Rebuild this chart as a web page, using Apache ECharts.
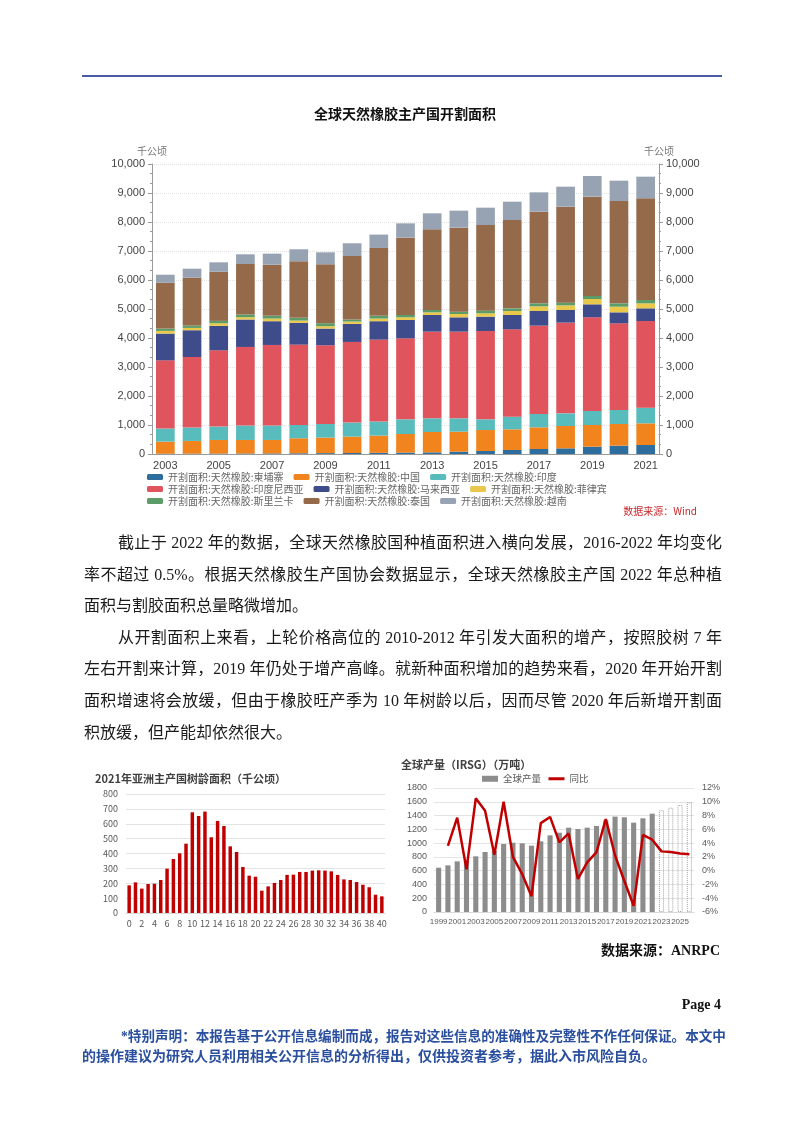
<!DOCTYPE html>
<html lang="zh-CN"><head><meta charset="utf-8">
<script src="https://cdn.jsdelivr.net/npm/echarts@6.0.0/dist/echarts.min.js"></script>
<style>
html,body{margin:0;padding:0;background:#fff;}
#page{position:relative;width:802px;height:1133px;overflow:hidden;background:#fff;}
#chart{position:absolute;left:0;top:0;width:802px;height:1133px;}
.t{position:absolute;white-space:nowrap;}
.ln{position:absolute;left:84px;width:638px;height:32px;line-height:32px;font-family:"Liberation Serif","Noto Sans CJK SC";font-size:16px;color:#1a1a1a;white-space:nowrap;}
.j{text-align:justify;text-align-last:justify;}
.ind{left:118px;width:604px;}
.disc{position:absolute;font-family:"Liberation Serif","Noto Sans CJK SC";font-weight:bold;color:#2a4f9e;white-space:nowrap;height:20px;line-height:20px;}
</style></head>
<body><div id="page">
<div id="chart"></div>
<div class="t" style="left:82px;top:75px;width:640px;height:2px;background:#4a5aa6;"></div>
<div class="t" style="left:0;width:810px;top:104px;text-align:center;font-family:'Noto Sans CJK SC';font-weight:bold;font-size:14px;color:#111;line-height:18px;">全球天然橡胶主产国开割面积</div>

<div class="ln j ind" style="top:527px;">截止于 2022 年的数据，全球天然橡胶国种植面积进入横向发展，2016-2022 年均变化</div>
<div class="ln j" style="top:559px;">率不超过 0.5%。根据天然橡胶生产国协会数据显示，全球天然橡胶主产国 2022 年总种植</div>
<div class="ln" style="top:590px;">面积与割胶面积总量略微增加。</div>
<div class="ln j ind" style="top:622px;">从开割面积上来看，上轮价格高位的 2010-2012 年引发大面积的增产，按照胶树 7 年</div>
<div class="ln j" style="top:653px;">左右开割来计算，2019 年仍处于增产高峰。就新种面积增加的趋势来看，2020 年开始开割</div>
<div class="ln j" style="top:685px;">面积增速将会放缓，但由于橡胶旺产季为 10 年树龄以后，因而尽管 2020 年后新增开割面</div>
<div class="ln" style="top:717px;">积放缓，但产能却依然很大。</div>

<div class="t" style="right:82px;top:941px;font-family:'Liberation Serif','Noto Sans CJK SC';font-weight:bold;font-size:14px;color:#111;line-height:20px;">数据来源：ANRPC</div>
<div class="t" style="right:81px;top:995px;font-family:'Liberation Serif';font-weight:bold;font-size:14px;color:#111;line-height:20px;">Page 4</div>
<div class="disc" style="left:121px;width:601px;top:1027px;font-size:13.6px;text-align:justify;text-align-last:justify;">*特别声明：本报告基于公开信息编制而成，报告对这些信息的准确性及完整性不作任何保证。本文中</div>
<div class="disc" style="left:82px;top:1047px;font-size:14px;">的操作建议为研究人员利用相关公开信息的分析得出，仅供投资者参考，据此入市风险自负。</div>
</div>
<script>
// ---- Top chart: tapped area (thousand ha) ----
const years = ['2003','2004','2005','2006','2007','2008','2009','2010','2011','2012','2013','2014','2015','2016','2017','2018','2019','2020','2021'];
const cambodia    = [10,12,14,17,20,25,30,35,40,50,57,80,103,138,172,195,253,287,310];
const china       = [417,438,470,467,464,517,535,565,594,640,702,690,725,713,748,771,747,747,747];
const india       = [450,461,462,496,496,461,473,484,485,505,471,460,367,436,459,436,483,483,541];
const indonesia   = [2353,2434,2630,2711,2780,2769,2711,2780,2826,2794,2988,2988,3046,3012,3046,3127,3230,2989,2988];
const malaysia    = [922,923,842,946,819,749,576,623,634,632,575,495,495,494,506,437,448,379,437];
const philippines = [93,80,92,80,92,81,81,80,92,92,92,115,115,138,161,160,184,195,172];
const sriLanka    = [80,81,80,93,93,92,104,70,93,80,81,80,92,92,103,92,103,115,115];
const thailand    = [1580,1649,1696,1741,1764,1950,2030,2191,2341,2667,2781,2897,2954,3046,3161,3311,3426,3529,3506];
const vietnam     = [277,312,323,335,381,415,415,438,461,494,552,586,597,632,667,689,712,701,747];
const seriesNames = ['开割面积:天然橡胶:柬埔寨','开割面积:天然橡胶:中国','开割面积:天然橡胶:印度','开割面积:天然橡胶:印度尼西亚','开割面积:天然橡胶:马来西亚','开割面积:天然橡胶:菲律宾','开割面积:天然橡胶:斯里兰卡','开割面积:天然橡胶:泰国','开割面积:天然橡胶:越南'];
const seriesData = [cambodia,china,india,indonesia,malaysia,philippines,sriLanka,thailand,vietnam];
const seriesColors = ['#2d6e9e','#f2841e','#58bcbd','#e0555d','#3f4c8c','#e9c84c','#5c9c68','#946a4b','#97a3b2'];

// ---- Bottom-left: tree age area 2021 ----
const ageLabels = ['0','1','2','3','4','5','6','7','8','9','10','11','12','13','14','15','16','17','18','19','20','21','22','23','24','25','26','27','28','29','30','31','32','33','34','35','36','37','38','39','40'];
const ageArea = [186,206,164,195,197,222,298,363,401,466,677,652,682,509,619,585,448,410,309,251,244,150,179,202,222,256,258,276,276,285,287,285,280,256,226,222,208,190,173,123,112];

// ---- Bottom-right: IRSG global production ----
const prodYears = ['1999','2000','2001','2002','2003','2004','2005','2006','2007','2008','2009','2010','2011','2012','2013','2014','2015','2016','2017','2018','2019','2020','2021','2022','2023','2024','2025','2026'];
const prodActual = [643,677,735,740,808,871,888,987,1006,997,963,1026,1113,1151,1224,1205,1224,1248,1330,1385,1375,1297,1360,1427];
const prodForecast = [1476,1514,1553,1592];
const yoyPct = [null,3.6,7.7,0.2,10.5,8.7,2.3,10.0,2.0,-0.5,-3.7,6.9,7.8,4.1,5.4,-1.2,1.2,2.7,7.5,2.2,-1.5,-5.1,5.2,4.5,2.8,2.7,2.5,2.4];

const chart = echarts.init(document.getElementById('chart'), null, {renderer:'canvas'});
const fmt = v => v.toLocaleString('en-US');
const plain = v => String(v);
const topLabel = {color:'#444', fontSize:11, fontFamily:'Liberation Sans'};
const smallLabel = {color:'#595959', fontSize:9, fontFamily:'Liberation Sans'};
const series = [];
seriesNames.forEach((n,i)=>{
  series.push({name:n, type:'bar', stack:'area', xAxisIndex:0, yAxisIndex:0, data:seriesData[i],
    barCategoryGap:'30%', itemStyle:{color:seriesColors[i]}});
});
series.push({name:'ageArea', type:'bar', xAxisIndex:1, yAxisIndex:2, data:ageArea, barWidth:'55%', itemStyle:{color:'#c00000'}});
const prodData = prodActual.map(v=>v).concat(prodForecast.map(v=>({value:v, itemStyle:{color:'rgba(255,255,255,0)', borderColor:'#a0a0a0', borderWidth:1, borderType:'dotted'}})));
series.push({name:'全球产量', type:'bar', xAxisIndex:2, yAxisIndex:3, data:prodData, barWidth:'55%', itemStyle:{color:'#8c8c8c'}});
series.push({name:'同比', type:'line', xAxisIndex:2, yAxisIndex:4, data:yoyPct, symbol:'none', lineStyle:{color:'#c00000', width:2.5}, itemStyle:{color:'#c00000'}});

const legendText = {color:'#666', fontSize:10, fontFamily:'Noto Sans CJK SC'};
const mkLegend = (names, top) => ({left:147, top:top, orient:'horizontal', itemWidth:16, itemHeight:6, itemGap:10, icon:'roundRect', data:names, textStyle:legendText, padding:0, selectedMode:false});

chart.setOption({
  animation:false,
  textStyle:{fontFamily:'Noto Sans CJK SC'},
  title:[
    {text:'2021年亚洲主产国树龄面积（千公顷）', left:95, top:773, padding:0, textStyle:{fontSize:11, fontWeight:'bold', color:'#404040', fontFamily:'Noto Sans CJK SC'}},
    {text:'全球产量（IRSG）（万吨）', left:401, top:759, padding:0, textStyle:{fontSize:11, fontWeight:'bold', color:'#404040', fontFamily:'Noto Sans CJK SC'}},
    {text:'数据来源：Wind', right:105, top:506, padding:0, textStyle:{fontSize:10, fontWeight:'normal', color:'#c8282c', fontFamily:'Noto Sans CJK SC'}}
  ],
  legend:[
    mkLegend(seriesNames.slice(0,3), 472),
    mkLegend(seriesNames.slice(3,6), 484),
    mkLegend(seriesNames.slice(6,9), 496),
    {left:482, top:774, itemWidth:16, itemHeight:6, itemGap:6, padding:0, selectedMode:false,
     data:[{name:'全球产量', icon:'rect'},{name:'同比', itemStyle:{opacity:0}, lineStyle:{width:3, color:'#c00000'}}],
     textStyle:{color:'#595959', fontSize:9.5, fontFamily:'Noto Sans CJK SC'}}
  ],
  grid:[
    {left:152, top:164, width:507, height:290, outerBoundsMode:'none', containLabel:false},
    {left:126, top:794, width:259, height:119, outerBoundsMode:'none', containLabel:false},
    {left:434, top:788, width:260, height:124, outerBoundsMode:'none', containLabel:false}
  ],
  xAxis:[
    {type:'category', gridIndex:0, data:years, axisLine:{lineStyle:{color:'#999'}},
     axisTick:{alignWithLabel:true, interval:0, length:4, lineStyle:{color:'#999'}},
     axisLabel:Object.assign({interval:1, margin:6}, topLabel), splitLine:{show:false}},
    {type:'category', gridIndex:1, data:ageLabels, axisLine:{lineStyle:{color:'#d9d9d9'}}, axisTick:{show:false},
     axisLabel:{interval:1, color:'#595959', fontSize:9, margin:6, fontFamily:'Noto Sans CJK SC', hideOverlap:false}},
    {type:'category', gridIndex:2, data:prodYears, axisLine:{lineStyle:{color:'#d9d9d9'}}, axisTick:{show:false},
     axisLabel:{interval:1, margin:6, hideOverlap:false, showMinLabel:true, color:'#595959', fontSize:8, fontFamily:'Liberation Sans'}}
  ],
  yAxis:[
    {type:'value', gridIndex:0, min:0, max:10000, interval:1000, position:'left',
     name:'千公顷', nameLocation:'end', nameGap:8, nameTextStyle:{color:'#777', fontSize:10, fontFamily:'Noto Sans CJK SC', align:'center'},
     axisLine:{show:true, lineStyle:{color:'#999'}}, axisTick:{show:true, length:4, lineStyle:{color:'#999'}},
     minorTick:{show:true, splitNumber:3, length:2, lineStyle:{color:'#999'}},
     axisLabel:Object.assign({formatter:fmt, margin:7}, topLabel),
     splitLine:{show:true, lineStyle:{type:'dotted', color:'#e2e2e2'}}},
    {type:'value', gridIndex:0, min:0, max:10000, interval:1000, position:'right',
     name:'千公顷', nameLocation:'end', nameGap:8, nameTextStyle:{color:'#777', fontSize:10, fontFamily:'Noto Sans CJK SC', align:'center'},
     axisLine:{show:true, lineStyle:{color:'#999'}}, axisTick:{show:true, length:4, lineStyle:{color:'#999'}},
     minorTick:{show:true, splitNumber:3, length:2, lineStyle:{color:'#999'}},
     axisLabel:Object.assign({formatter:fmt, margin:7}, topLabel), splitLine:{show:false}},
    {type:'value', gridIndex:1, min:0, max:800, interval:100, axisLine:{show:false}, axisTick:{show:false},
     axisLabel:{color:'#595959', fontSize:9, margin:8, fontFamily:'Noto Sans CJK SC', formatter:plain},
     splitLine:{lineStyle:{color:'#e3e3e3'}}},
    {type:'value', gridIndex:2, min:0, max:1800, interval:200, axisLine:{show:false}, axisTick:{show:false},
     axisLabel:Object.assign({margin:7, formatter:plain}, smallLabel),
     splitLine:{lineStyle:{color:'#e3e3e3'}}},
    {type:'value', gridIndex:2, min:-6, max:12, interval:2, position:'right', axisLine:{show:false}, axisTick:{show:false},
     axisLabel:Object.assign({margin:8, formatter:v => v + '%'}, smallLabel),
     splitLine:{show:false}}
  ],
  series:series
});
</script>
</body></html>
